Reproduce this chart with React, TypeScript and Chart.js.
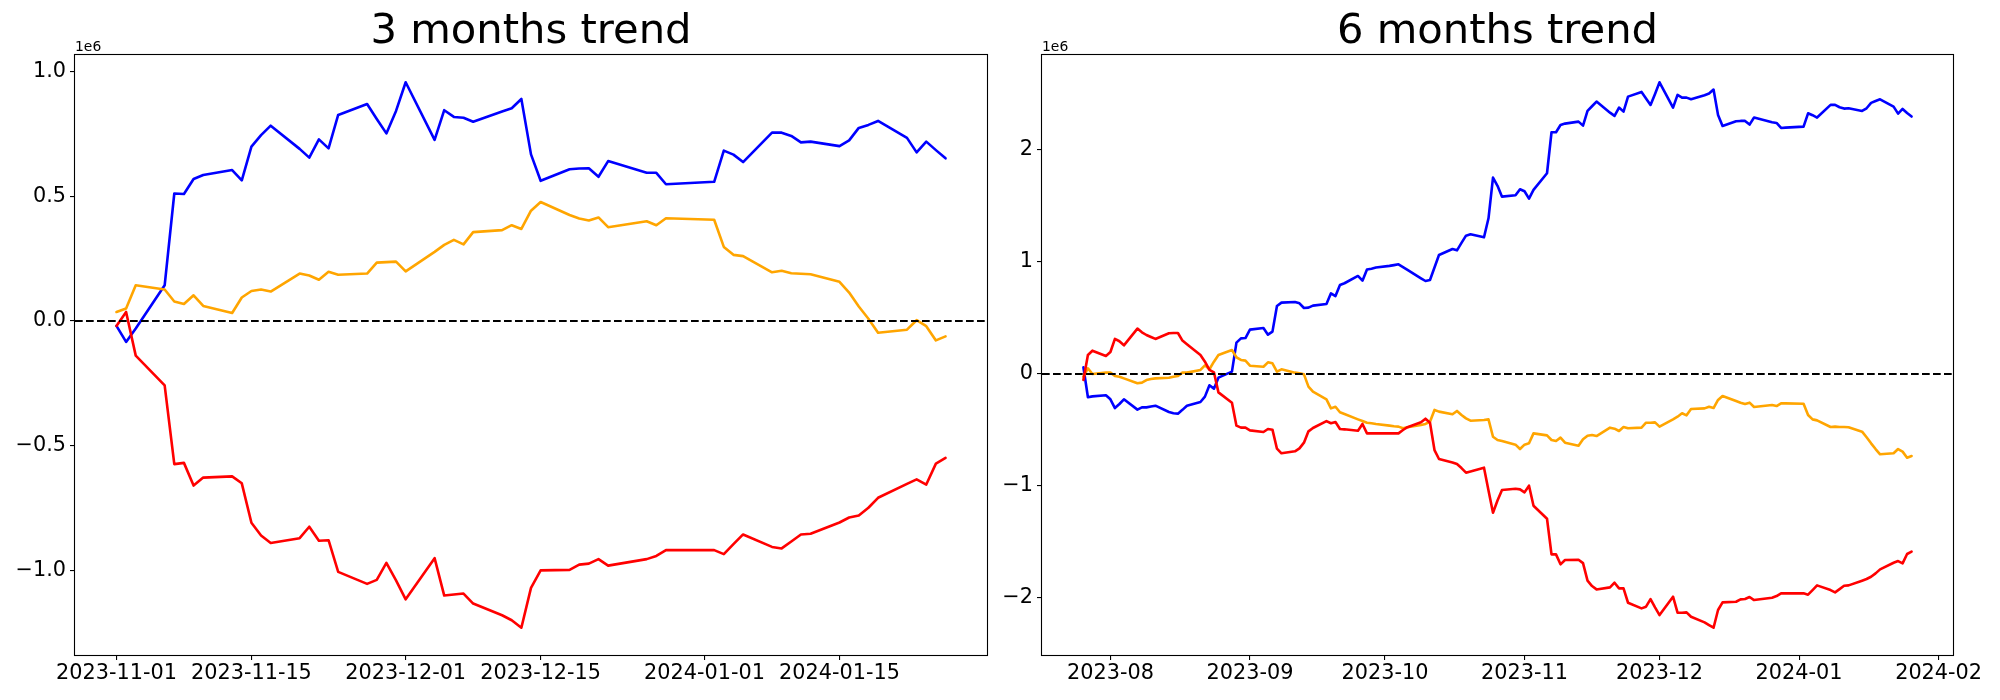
import React, { useEffect, useRef } from "react";
import { Chart, registerables } from "chart.js";

Chart.register(...registerables);

const FONT = "'DejaVu Sans', sans-serif";

// ---------------- 3 months data (values in units of 1e6) ----------------
const dates3m = [
  "2023-11-01", "2023-11-02", "2023-11-03",
  "2023-11-06", "2023-11-07", "2023-11-08", "2023-11-09", "2023-11-10",
  "2023-11-13", "2023-11-14", "2023-11-15", "2023-11-16", "2023-11-17",
  "2023-11-20", "2023-11-21", "2023-11-22", "2023-11-23", "2023-11-24",
  "2023-11-27", "2023-11-28", "2023-11-29", "2023-11-30", "2023-12-01",
  "2023-12-04", "2023-12-05", "2023-12-06", "2023-12-07", "2023-12-08",
  "2023-12-11", "2023-12-12", "2023-12-13", "2023-12-14", "2023-12-15",
  "2023-12-18", "2023-12-19", "2023-12-20", "2023-12-21", "2023-12-22",
  "2023-12-26", "2023-12-27", "2023-12-28",
  "2024-01-02", "2024-01-03", "2024-01-04", "2024-01-05",
  "2024-01-08", "2024-01-09", "2024-01-10", "2024-01-11", "2024-01-12",
  "2024-01-15", "2024-01-16", "2024-01-17", "2024-01-18", "2024-01-19",
  "2024-01-22", "2024-01-23", "2024-01-24", "2024-01-25", "2024-01-26",
];

const blue3m = [
  -0.02, -0.084, -0.03,
  0.143, 0.511, 0.509, 0.569, 0.585,
  0.605, 0.564, 0.699, 0.745, 0.783,
  0.69, 0.655, 0.728, 0.692, 0.826,
  0.87, 0.81, 0.752, 0.842, 0.957,
  0.726, 0.845, 0.818, 0.815, 0.799,
  0.84, 0.853, 0.89, 0.668, 0.562,
  0.608, 0.611, 0.612, 0.578, 0.641,
  0.594, 0.594, 0.548,
  0.558, 0.683, 0.667, 0.637,
  0.755, 0.755, 0.742, 0.716, 0.719,
  0.701, 0.724, 0.774, 0.786, 0.802,
  0.734, 0.676, 0.719, 0.685, 0.652,
];

const orange3m = [
  0.036, 0.05, 0.143,
  0.126, 0.078, 0.068, 0.103, 0.06,
  0.032, 0.094, 0.12, 0.126, 0.118,
  0.19, 0.182, 0.165, 0.197, 0.185,
  0.19, 0.234, 0.236, 0.238, 0.199,
  0.277, 0.305, 0.325, 0.307, 0.356,
  0.364, 0.384, 0.369, 0.442, 0.477,
  0.425, 0.411, 0.403, 0.415, 0.376,
  0.4, 0.384, 0.412,
  0.406, 0.297, 0.265, 0.26,
  0.195, 0.201, 0.191, 0.189, 0.187,
  0.157, 0.114, 0.058, 0.009, -0.047,
  -0.035, 0.003, -0.021, -0.078, -0.062,
];

const red3m = [
  -0.02, 0.036, -0.139,
  -0.258, -0.574, -0.569, -0.66, -0.628,
  -0.623, -0.651, -0.809, -0.86, -0.89,
  -0.871, -0.825, -0.881, -0.879, -1.006,
  -1.054, -1.038, -0.97, -1.04, -1.116,
  -0.951, -1.101, -1.097, -1.093, -1.133,
  -1.18, -1.2, -1.23, -1.07, -1.0,
  -0.998, -0.977, -0.973, -0.955, -0.981,
  -0.955, -0.942, -0.919,
  -0.919, -0.935, -0.895, -0.856,
  -0.906, -0.912, -0.884, -0.856, -0.853,
  -0.808, -0.788, -0.78, -0.749, -0.709,
  -0.653, -0.635, -0.656, -0.572, -0.549,
];

const xTickDates3m = ["2023-11-01", "2023-11-15", "2023-12-01", "2023-12-15", "2024-01-01", "2024-01-15"];
const xTickLabels3m = ["2023-11-01", "2023-11-15", "2023-12-01", "2023-12-15", "2024-01-01", "2024-01-15"];
const yTicks3m = [-1.0, -0.5, 0.0, 0.5, 1.0];

// ---------------- 6 months data (values in units of 1e6) ----------------
const dates6m = [
  "2023-07-26", "2023-07-27", "2023-07-28", "2023-07-31",
  "2023-08-01", "2023-08-02", "2023-08-03", "2023-08-04",
  "2023-08-07", "2023-08-08", "2023-08-09", "2023-08-10", "2023-08-11",
  "2023-08-14", "2023-08-15", "2023-08-16", "2023-08-17", "2023-08-18",
  "2023-08-21", "2023-08-22", "2023-08-23", "2023-08-24", "2023-08-25",
  "2023-08-28", "2023-08-29", "2023-08-30", "2023-08-31",
  "2023-09-01",
  "2023-09-04", "2023-09-05", "2023-09-06", "2023-09-07", "2023-09-08",
  "2023-09-11", "2023-09-12", "2023-09-13", "2023-09-14", "2023-09-15",
  "2023-09-18", "2023-09-19", "2023-09-20", "2023-09-21", "2023-09-22",
  "2023-09-25", "2023-09-26", "2023-09-27", "2023-09-28", "2023-09-29",
  "2023-10-02", "2023-10-03", "2023-10-04", "2023-10-05", "2023-10-06",
  "2023-10-09", "2023-10-10", "2023-10-11", "2023-10-12", "2023-10-13",
  "2023-10-16", "2023-10-17", "2023-10-18", "2023-10-19", "2023-10-20",
  "2023-10-23", "2023-10-24", "2023-10-25", "2023-10-26", "2023-10-27",
  "2023-10-30", "2023-10-31",
  "2023-11-01", "2023-11-02", "2023-11-03",
  "2023-11-06", "2023-11-07", "2023-11-08", "2023-11-09", "2023-11-10",
  "2023-11-13", "2023-11-14", "2023-11-15", "2023-11-16", "2023-11-17",
  "2023-11-20", "2023-11-21", "2023-11-22", "2023-11-23", "2023-11-24",
  "2023-11-27", "2023-11-28", "2023-11-29", "2023-11-30",
  "2023-12-01",
  "2023-12-04", "2023-12-05", "2023-12-06", "2023-12-07", "2023-12-08",
  "2023-12-11", "2023-12-12", "2023-12-13", "2023-12-14", "2023-12-15",
  "2023-12-18", "2023-12-19", "2023-12-20", "2023-12-21", "2023-12-22",
  "2023-12-26", "2023-12-27", "2023-12-28", "2023-12-29",
  "2024-01-02", "2024-01-03", "2024-01-04", "2024-01-05",
  "2024-01-08", "2024-01-09", "2024-01-10", "2024-01-11", "2024-01-12",
  "2024-01-15", "2024-01-16", "2024-01-17", "2024-01-18", "2024-01-19",
  "2024-01-22", "2024-01-23", "2024-01-24", "2024-01-25", "2024-01-26",
];

const blue6m = [
  0.06, -0.208, -0.2, -0.19,
  -0.226, -0.304, -0.268, -0.226,
  -0.318, -0.298, -0.298, -0.29, -0.283,
  -0.339, -0.35, -0.354, -0.32, -0.283,
  -0.25, -0.202, -0.101, -0.131, -0.033,
  0.021, 0.28, 0.318, 0.321,
  0.396,
  0.411, 0.351, 0.378, 0.607, 0.637,
  0.643, 0.631, 0.589, 0.592, 0.61,
  0.625, 0.72, 0.696, 0.795, 0.81,
  0.875, 0.833, 0.932, 0.94, 0.95,
  0.965, 0.972, 0.979, 0.954, 0.929,
  0.854, 0.83, 0.839, 0.95, 1.062,
  1.116, 1.104, 1.17, 1.235, 1.247,
  1.22, 1.39, 1.753, 1.68, 1.583,
  1.595, 1.649,
  1.631, 1.565, 1.643,
  1.792, 2.158, 2.158, 2.223, 2.235,
  2.253, 2.217, 2.348, 2.39, 2.432,
  2.333, 2.304, 2.378, 2.342, 2.476,
  2.518, 2.46, 2.402, 2.5,
  2.604,
  2.378, 2.491, 2.467, 2.467, 2.452,
  2.488, 2.503, 2.539, 2.312, 2.214,
  2.256, 2.259, 2.259, 2.226, 2.289,
  2.247, 2.241, 2.196, 2.199,
  2.208, 2.327, 2.31, 2.289,
  2.402, 2.402, 2.381, 2.369, 2.372,
  2.348, 2.372, 2.42, 2.437, 2.452,
  2.387, 2.324, 2.366, 2.33, 2.298,
];

const orange6m = [
  -0.024, 0.051, 0.0, 0.012,
  0.012, -0.018, -0.024, -0.039,
  -0.083, -0.077, -0.054, -0.045, -0.039,
  -0.033, -0.024, -0.018, 0.012, 0.012,
  0.036, 0.077, 0.042, 0.11, 0.17,
  0.214, 0.149, 0.125, 0.119,
  0.074,
  0.065, 0.104, 0.095, 0.021, 0.042,
  0.012, 0.006, -0.003, -0.113, -0.158,
  -0.226, -0.307, -0.292, -0.342, -0.357,
  -0.405, -0.42, -0.435, -0.44, -0.446,
  -0.461, -0.467, -0.47, -0.485, -0.476,
  -0.455, -0.446, -0.426, -0.321, -0.336,
  -0.36, -0.33, -0.366, -0.396, -0.417,
  -0.411, -0.405, -0.56, -0.589, -0.598,
  -0.631, -0.67,
  -0.631, -0.619, -0.53,
  -0.548, -0.589, -0.598, -0.568, -0.613,
  -0.64, -0.583, -0.551, -0.545, -0.554,
  -0.479, -0.488, -0.509, -0.473, -0.485,
  -0.479, -0.435, -0.435, -0.432,
  -0.47,
  -0.405, -0.381, -0.351, -0.369, -0.313,
  -0.307, -0.292, -0.304, -0.232, -0.196,
  -0.241, -0.256, -0.268, -0.256, -0.295,
  -0.277, -0.286, -0.262, -0.262,
  -0.265, -0.366, -0.405, -0.414,
  -0.473, -0.47, -0.473, -0.473, -0.476,
  -0.515, -0.565, -0.619, -0.67, -0.717,
  -0.708, -0.67, -0.693, -0.747, -0.732,
];

const red6m = [
  -0.054, 0.17, 0.208, 0.161,
  0.196, 0.313, 0.292, 0.256,
  0.405, 0.372, 0.348, 0.33, 0.313,
  0.363, 0.366, 0.366, 0.298, 0.265,
  0.17, 0.11, 0.036, 0.015, -0.164,
  -0.256, -0.461, -0.479, -0.479,
  -0.503,
  -0.518, -0.491, -0.497, -0.667, -0.708,
  -0.69, -0.664, -0.613, -0.512, -0.482,
  -0.42, -0.44, -0.429, -0.491, -0.494,
  -0.506, -0.446, -0.53, -0.53, -0.53,
  -0.53, -0.53, -0.53, -0.5, -0.475,
  -0.43, -0.399, -0.435, -0.679, -0.759,
  -0.79, -0.804, -0.84, -0.881, -0.87,
  -0.836, -1.04, -1.238, -1.13, -1.036,
  -1.024, -1.03,
  -1.057, -0.997, -1.176,
  -1.292, -1.61, -1.61, -1.699, -1.661,
  -1.658, -1.688, -1.845, -1.893, -1.923,
  -1.905, -1.863, -1.914, -1.914, -2.042,
  -2.092, -2.077, -2.009, -2.083,
  -2.152,
  -1.988, -2.131, -2.131, -2.128, -2.167,
  -2.217, -2.241, -2.265, -2.107, -2.039,
  -2.033, -2.012, -2.009, -1.991, -2.018,
  -1.997, -1.982, -1.958, -1.958,
  -1.958, -1.97, -1.929, -1.887,
  -1.929, -1.949, -1.92, -1.89, -1.887,
  -1.845, -1.83, -1.81, -1.78, -1.744,
  -1.685, -1.67, -1.69, -1.607, -1.586,
];

const xTickDates6m = ["2023-08-01", "2023-09-01", "2023-10-01", "2023-11-01", "2023-12-01", "2024-01-01", "2024-02-01"];
const xTickLabels6m = ["2023-08", "2023-09", "2023-10", "2023-11", "2023-12", "2024-01", "2024-02"];
const yTicks6m = [-2, -1, 0, 1, 2];

// ---------------- helpers ----------------
function dayNum(s: string): number {
  return Date.UTC(+s.slice(0, 4), +s.slice(5, 7) - 1, +s.slice(8, 10)) / 86400000;
}

function minusSign(s: string): string {
  return s.replace("-", "\u2212");
}

const mplPlugin = {
  id: "mplDecor",
  afterDatasetsDraw(chart: any) {
    const { ctx, chartArea } = chart;
    const y0 = chart.scales.y.getPixelForValue(0);
    ctx.save();
    ctx.strokeStyle = "#000";
    ctx.lineWidth = 2.08;
    ctx.setLineDash([7.7, 3.3]);
    ctx.beginPath();
    ctx.moveTo(chartArea.left, y0);
    ctx.lineTo(chartArea.right, y0);
    ctx.stroke();
    ctx.restore();
  },
  afterDraw(chart: any) {
    const { ctx, chartArea } = chart;
    ctx.save();
    ctx.strokeStyle = "#000";
    ctx.lineWidth = 1.1;
    const l = Math.round(chartArea.left) - 0.5;
    const t = Math.round(chartArea.top) - 0.5;
    const r = Math.round(chartArea.right) + 0.5;
    const b = Math.round(chartArea.bottom) + 0.5;
    ctx.strokeRect(l, t, r - l, b - t);
    ctx.fillStyle = "#000";
    ctx.font = `13.9px ${FONT}`;
    ctx.textAlign = "left";
    ctx.textBaseline = "alphabetic";
    ctx.fillText("1e6", chartArea.left, chartArea.top - 4.5);
    ctx.restore();
  },
};

type Series = { name: string; color: string; values: number[] };

function buildConfig(p: {
  title: string;
  dates: string[];
  series: Series[];
  xTickDates: string[];
  xTickLabels: string[];
  yTicks: number[];
  yDecimals: number;
  yAxisWidth: number;
  rightPad: number;
}): any {
  const xs = p.dates.map(dayNum);
  const x0 = Math.min(...xs);
  const x1 = Math.max(...xs);
  const xm = (x1 - x0) * 0.05;
  const all = p.series.flatMap((s) => s.values);
  const y0 = Math.min(...all);
  const y1 = Math.max(...all);
  const ym = (y1 - y0) * 0.05;
  const tickVals = p.xTickDates.map(dayNum);
  const labelMap = new Map<number, string>();
  tickVals.forEach((v, i) => labelMap.set(v, p.xTickLabels[i]));

  return {
    type: "line",
    data: {
      datasets: p.series.map((s) => ({
        label: s.name,
        data: xs.map((x, i) => ({ x, y: s.values[i] })),
        borderColor: s.color,
        backgroundColor: s.color,
        borderWidth: 2.6,
        borderJoinStyle: "round",
        borderCapStyle: "round",
        pointRadius: 0,
        tension: 0,
        fill: false,
      })),
    },
    options: {
      animation: false,
      responsive: false,
      events: [],
      layout: { padding: { left: 0, right: p.rightPad, top: 0, bottom: 0 } },
      plugins: {
        legend: { display: false },
        tooltip: { enabled: false },
        title: {
          display: true,
          text: p.title,
          fullSize: false,
          color: "#000",
          font: { family: FONT, size: 41.7, weight: "normal", lineHeight: 1.0 },
          padding: { top: 11.75, bottom: 1.55 },
        },
      },
      scales: {
        x: {
          type: "linear",
          min: x0 - xm,
          max: x1 + xm,
          afterBuildTicks: (scale: any) => {
            scale.ticks = tickVals.map((v) => ({ value: v }));
          },
          afterFit: (scale: any) => {
            scale.height = 45;
          },
          ticks: {
            autoSkip: false,
            maxRotation: 0,
            minRotation: 0,
            padding: 1,
            color: "#000",
            font: { family: FONT, size: 20.8 },
            callback: (v: number) => labelMap.get(v) ?? "",
          },
          grid: {
            display: true,
            drawOnChartArea: false,
            drawTicks: true,
            tickLength: 5,
            color: "#000",
            lineWidth: 1.1,
          },
          border: { display: false },
        },
        y: {
          type: "linear",
          min: y0 - ym,
          max: y1 + ym,
          afterBuildTicks: (scale: any) => {
            scale.ticks = p.yTicks.map((v) => ({ value: v }));
          },
          afterFit: (scale: any) => {
            scale.width = p.yAxisWidth;
          },
          ticks: {
            padding: 4,
            color: "#000",
            font: { family: FONT, size: 20.8 },
            callback: (v: number) => minusSign(Number(v).toFixed(p.yDecimals)),
          },
          grid: {
            display: true,
            drawOnChartArea: false,
            drawTicks: true,
            tickLength: 5,
            color: "#000",
            lineWidth: 1.1,
          },
          border: { display: false },
        },
      },
    },
    plugins: [mplPlugin],
  };
}

function TrendChart({ config, left }: { config: any; left: number }) {
  const ref = useRef<HTMLCanvasElement | null>(null);
  useEffect(() => {
    if (!ref.current) return;
    const chart = new Chart(ref.current, config);
    return () => chart.destroy();
  }, [config]);
  return (
    <canvas
      ref={ref}
      width={1000}
      height={700}
      style={{ position: "absolute", left, top: 0, width: 1000, height: 700 }}
    />
  );
}

const config3m = buildConfig({
  title: "3 months trend",
  dates: dates3m,
  series: [
    { name: "red", color: "#ff0000", values: red3m },
    { name: "orange", color: "#ffa500", values: orange3m },
    { name: "blue", color: "#0000ff", values: blue3m },
  ],
  xTickDates: xTickDates3m,
  xTickLabels: xTickLabels3m,
  yTicks: yTicks3m,
  yDecimals: 1,
  yAxisWidth: 75,
  rightPad: 13,
});

const config6m = buildConfig({
  title: "6 months trend",
  dates: dates6m,
  series: [
    { name: "red", color: "#ff0000", values: red6m },
    { name: "orange", color: "#ffa500", values: orange6m },
    { name: "blue", color: "#0000ff", values: blue6m },
  ],
  xTickDates: xTickDates6m,
  xTickLabels: xTickLabels6m,
  yTicks: yTicks6m,
  yDecimals: 0,
  yAxisWidth: 42,
  rightPad: 47,
});

export default function App() {
  useEffect(() => {
    document.body.style.margin = "0";
    document.body.style.background = "#fff";
  }, []);
  return (
    <div style={{ position: "relative", width: 2000, height: 700, background: "#fff", overflow: "hidden" }}>
      <TrendChart config={config3m} left={0} />
      <TrendChart config={config6m} left={1000} />
    </div>
  );
}
